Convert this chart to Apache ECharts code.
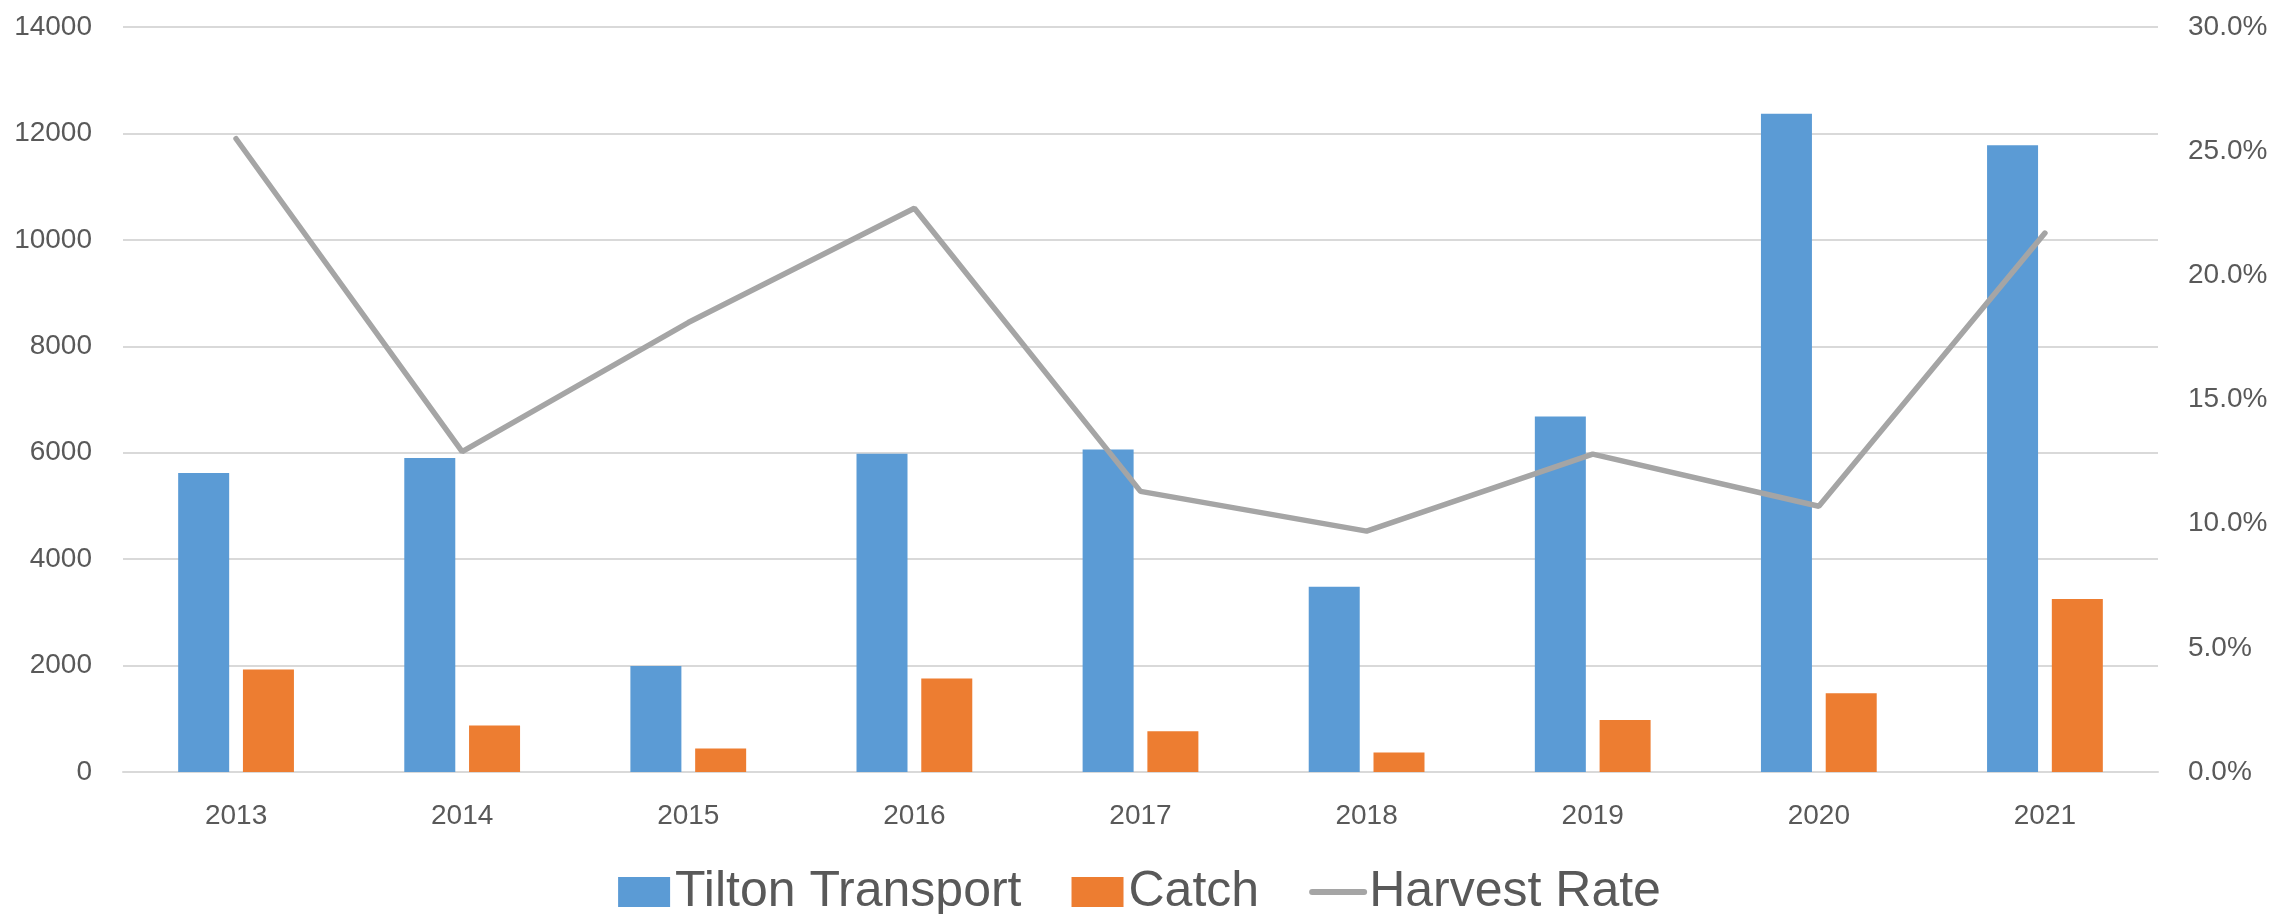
<!DOCTYPE html>
<html>
<head>
<meta charset="utf-8">
<script src="https://cdn.jsdelivr.net/npm/echarts@6/dist/echarts.min.js"></script>
<style>
html,body{margin:0;padding:0;background:#fff;}
#chart{width:2279px;height:914px;}
</style>
</head>
<body>
<div id="chart"></div>
<script>
const years = ['2013','2014','2015','2016','2017','2018','2019','2020','2021'];
const tiltonTransport = [5620, 5900, 1990, 5980, 6060, 3480, 6680, 12370, 11780];
const catchValues = [1925, 873, 440, 1757, 766, 365, 975, 1480, 3250];
const harvestRate = [25.5, 12.9, 18.1, 22.7, 11.3, 9.7, 12.8, 10.7, 21.7];
const leftTicks = { min: 0, max: 14000, interval: 2000 };
const rightTicks = { min: 0, max: 30, interval: 5 };

const FONT = "'Liberation Sans', Arial, sans-serif";
const TEXT = '#595959';
const GRID = '#D9D9D9';

const chart = echarts.init(document.getElementById('chart'), null, { renderer: 'canvas' });
chart.setOption({
  backgroundColor: '#ffffff',
  animation: false,
  textStyle: { fontFamily: FONT, color: TEXT },
  grid: { left: 123, right: 121, top: 27, bottom: 142, containLabel: false },
  legend: {
    top: 862,
    left: 'center',
    itemWidth: 52,
    itemHeight: 30,
    itemGap: 50,
    textStyle: { fontFamily: FONT, fontSize: 50, color: TEXT },
    data: [
      { name: 'Tilton Transport', icon: 'rect' },
      { name: 'Catch', icon: 'rect' },
      {
        name: 'Harvest Rate',
        itemStyle: { opacity: 0 },
        lineStyle: { width: 6, color: '#A5A5A5', opacity: 1 }
      }
    ]
  },
  xAxis: {
    type: 'category',
    data: years,
    axisTick: { show: false },
    axisLine: { show: true, lineStyle: { color: GRID, width: 2 } },
    axisLabel: { fontFamily: FONT, fontSize: 28, color: TEXT, margin: 30 }
  },
  yAxis: [
    {
      type: 'value',
      min: leftTicks.min, max: leftTicks.max, interval: leftTicks.interval,
      axisLine: { show: false },
      axisTick: { show: false },
      splitLine: { show: true, lineStyle: { color: GRID, width: 2 } },
      axisLabel: {
        fontFamily: FONT, fontSize: 28, color: TEXT, margin: 31,
        formatter: v => String(v)
      }
    },
    {
      type: 'value',
      min: rightTicks.min, max: rightTicks.max, interval: rightTicks.interval,
      position: 'right',
      axisLine: { show: false },
      axisTick: { show: false },
      splitLine: { show: false },
      axisLabel: {
        fontFamily: FONT, fontSize: 28, color: TEXT, margin: 30,
        formatter: v => v.toFixed(1) + '%'
      }
    }
  ],
  series: [
    {
      name: 'Tilton Transport',
      type: 'bar',
      data: tiltonTransport,
      barWidth: 51,
      barGap: '27%',
      itemStyle: { color: '#5B9BD5' }
    },
    {
      name: 'Catch',
      type: 'bar',
      data: catchValues,
      barWidth: 51,
      barGap: '27%',
      itemStyle: { color: '#ED7D31' }
    },
    {
      name: 'Harvest Rate',
      type: 'line',
      yAxisIndex: 1,
      data: harvestRate,
      symbol: 'none',
      showSymbol: false,
      lineStyle: { color: '#A5A5A5', width: 5.5, cap: 'round' },
      itemStyle: { color: '#A5A5A5' },
      z: 5
    }
  ]
});
</script>
</body>
</html>
